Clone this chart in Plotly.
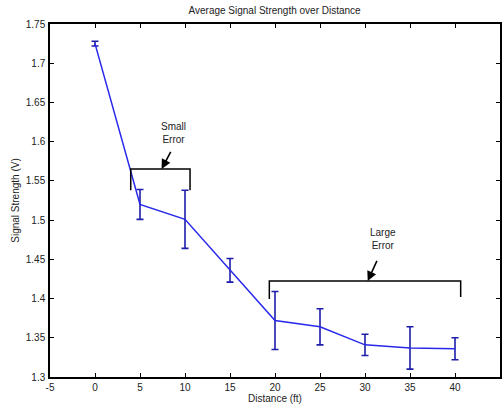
import plotly.graph_objects as go

distance = [0, 5, 10, 15, 20, 25, 30, 35, 40]
signal = [1.725, 1.520, 1.501, 1.436, 1.372, 1.364, 1.341, 1.337, 1.336]
error = [0.003, 0.019, 0.037, 0.015, 0.037, 0.023, 0.0135, 0.027, 0.014]

x_ticks = [-5, 0, 5, 10, 15, 20, 25, 30, 35, 40, 45]
y_ticks = [1.3, 1.35, 1.4, 1.45, 1.5, 1.55, 1.6, 1.65, 1.7, 1.75]

# brackets: (x_left, x_right, y_top, y_bottom_left, y_bottom_right)
small_bracket = (3.97, 10.56, 1.5652, 1.538, 1.538)
large_bracket = (19.37, 40.63, 1.4224, 1.3994, 1.402)

FONT = "Liberation Sans, Arial, Helvetica, sans-serif"

fig = go.Figure()
fig.add_trace(go.Scatter(
    x=distance, y=signal, mode="lines",
    line=dict(color="rgb(40,40,235)", width=1.5),
    error_y=dict(type="data", array=error, visible=True,
                 color="rgb(30,30,170)", thickness=1.6, width=3.5),
    showlegend=False,
))

shapes = []
for (xl, xr, yt, ybl, ybr) in [small_bracket, large_bracket]:
    shapes.append(dict(type="path", xref="x", yref="y",
                       path=f"M {xl},{ybl} L {xl},{yt} L {xr},{yt} L {xr},{ybr}",
                       line=dict(color="black", width=1.5)))

annotations = [
    dict(x=7.4, y=1.5652, ax=8.5, ay=1.589, xref="x", yref="y", axref="x", ayref="y",
         text="", showarrow=True, arrowhead=2, arrowsize=1.2, arrowwidth=1.6, arrowcolor="black"),
    dict(x=8.7, y=1.611, xref="x", yref="y", text="Small<br>Error", showarrow=False,
         font=dict(family=FONT, size=10, color="#222"), align="center"),
    dict(x=30.3, y=1.4224, ax=31.4, ay=1.450, xref="x", yref="y", axref="x", ayref="y",
         text="", showarrow=True, arrowhead=2, arrowsize=1.2, arrowwidth=1.6, arrowcolor="black"),
    dict(x=32.0, y=1.476, xref="x", yref="y", text="Large<br>Error", showarrow=False,
         font=dict(family=FONT, size=10, color="#222"), align="center"),
]

axis_common = dict(
    showline=True, linecolor="black", linewidth=1.5, mirror="ticks",
    ticks="inside", ticklen=4, tickcolor="black", tickwidth=1,
    showgrid=False, zeroline=False, automargin=False,
    tickfont=dict(family=FONT, size=10, color="#222"),
)

fig.update_layout(
    width=502, height=407,
    margin=dict(l=50, r=2, t=24, b=30),
    paper_bgcolor="white", plot_bgcolor="white",
    title=dict(text="Average Signal Strength over Distance", x=0.547, xanchor="center",
               y=0.975, yanchor="middle",
               font=dict(family=FONT, size=10, color="#222")),
    xaxis=dict(range=[-5, 45], tickvals=x_ticks, ticktext=[str(v) for v in x_ticks],
               ticklabelstandoff=0,
               title=dict(text="Distance (ft)", standoff=0,
                          font=dict(family=FONT, size=10, color="#222")),
               **axis_common),
    yaxis=dict(range=[1.3, 1.75], tickvals=y_ticks, ticktext=[f"{v:g}" for v in y_ticks],
               ticklabelstandoff=1,
               title=dict(text="Signal Strength (V)", standoff=4,
                          font=dict(family=FONT, size=10, color="#222")),
               **axis_common),
    shapes=shapes,
    annotations=annotations,
)

fig.write_html(
    "out.html",
    config={"displayModeBar": False},
    post_script="document.body.style.margin='0';document.body.style.overflow='hidden';",
)
